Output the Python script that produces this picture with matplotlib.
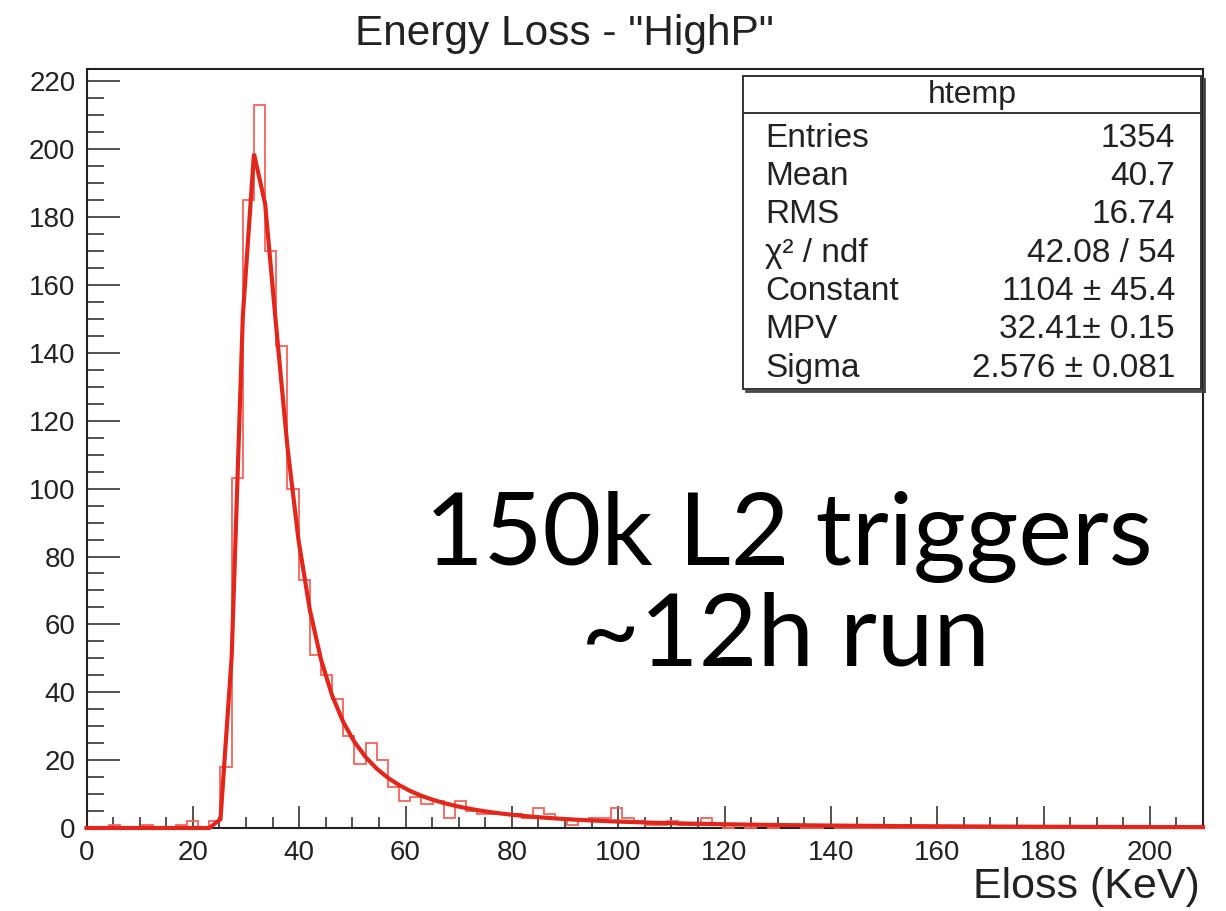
import numpy as np
import matplotlib
matplotlib.use("Agg")
import matplotlib.pyplot as plt
from matplotlib.patches import Rectangle
from matplotlib.lines import Line2D
from matplotlib.ticker import MultipleLocator

# ---------------- data ----------------
title = 'Energy Loss - "HighP"'
x_label = "Eloss (KeV)"
hist_name = "htemp"

n_bins = 100
x_range = (0.0, 210.0)

# bin contents of the energy-loss histogram (100 bins, 0-210 keV)
counts = np.array([
    0, 0, 1, 0, 0, 1, 0, 0, 1, 2,
    0, 2, 18, 103, 185, 213, 170, 142, 100, 73,
    51, 45, 38, 27, 19, 25, 20, 12, 8, 9,
    7, 8, 3, 8, 5, 4, 4, 4, 4, 3,
    6, 4, 3, 1, 2, 3, 3, 6, 3, 2,
    1, 1, 2, 1, 1, 3, 1, 0, 1, 0,
    1, 0, 1, 1, 0, 0, 1, 0, 0, 0,
    0, 0, 0, 0, 0, 0, 0, 0, 0, 0,
    0, 0, 0, 0, 0, 0, 0, 0, 0, 0,
    0, 0, 0, 0, 0, 0, 0, 0, 0, 0,
])

# Landau fit result
fit_constant = 1104.0
fit_mpv = 32.41
fit_sigma = 2.576

stats_labels = ["Entries", "Mean", "RMS", "\u03c7\u00b2 / ndf", "Constant", "MPV", "Sigma"]
stats_values = ["1354", "40.7", "16.74", "42.08 / 54",
                "1104 \u00b1 45.4", "32.41\u00b1 0.15", "2.576 \u00b1 0.081"]

overlay_lines = ["150k L2 triggers", "~12h run"]


# ---------------- Landau density (ROOT convention, unnormalised in sigma) ----------------
def landau_phi(lam):
    lam = np.atleast_1d(np.asarray(lam, dtype=float))
    t = np.linspace(0.0, 80.0, 160001)[1:]
    h = t[1] - t[0]
    base = -t * np.log(t)
    s = np.sin(np.pi * t)
    out = np.zeros_like(lam)
    for i, l in enumerate(lam):
        if l < -4.0:
            continue
        f = np.exp(base - l * t) * s
        out[i] = f.sum() * h / np.pi
    return np.clip(out, 0, None)


# ---------------- figure ----------------
W, H = 1226, 911
fig = plt.figure(figsize=(W / 100, H / 100), dpi=100)
fig.patch.set_facecolor("white")


def fx(px):
    return px / W


def fy(py):
    return 1.0 - py / H


ax_left, ax_right, ax_top, ax_bottom = 86.5, 1203.0, 69.0, 828.0
ax = fig.add_axes([fx(ax_left), fy(ax_bottom), (ax_right - ax_left) / W, (ax_bottom - ax_top) / H])

edges = np.linspace(x_range[0], x_range[1], n_bins + 1)
ax.stairs(counts, edges, color="#f0645c", lw=1.3, zorder=3, clip_on=False)

x_fit = np.linspace(x_range[0], x_range[1], 101)
y_fit = fit_constant * landau_phi((x_fit - fit_mpv) / fit_sigma)
ax.plot(x_fit, y_fit, color="#e2261c", lw=3.0, zorder=4, clip_on=False,
        solid_joinstyle="miter")

ax.set_xlim(*x_range)
ax.set_ylim(0, 1.05 * counts.max())

tick_font = "Liberation Sans"
ax.xaxis.set_major_locator(MultipleLocator(20))
ax.xaxis.set_minor_locator(MultipleLocator(5))
ax.yaxis.set_major_locator(MultipleLocator(20))
ax.yaxis.set_minor_locator(MultipleLocator(5))
ax.tick_params(axis="both", which="both", direction="in", top=False, right=False,
               colors="#444444", width=1.3, labelcolor="#222222")
ax.tick_params(axis="y", which="major", length=24, pad=8, labelsize=20)
ax.tick_params(axis="y", which="minor", length=12.5)
ax.tick_params(axis="x", which="major", length=16, pad=9, labelsize=20)
ax.tick_params(axis="x", which="minor", length=8)
for lab in ax.get_xticklabels() + ax.get_yticklabels():
    lab.set_fontfamily(tick_font)

for side in ["left", "bottom", "top", "right"]:
    ax.spines[side].set_color("#222222")
    ax.spines[side].set_linewidth(1.5)

# axis title and plot title
fig.text(fx(1200), fy(898), x_label, ha="right", va="baseline",
         fontsize=31, family="Liberation Sans", color="#222222")
fig.text(fx(564), fy(45), title, ha="center", va="baseline",
         fontsize=30.5, family="Liberation Sans", color="#222222")

# statistics box
bx0, bx1, by0, by1 = 743, 1201, 76, 389
sep_y = 113
fig.patches.append(Rectangle((fx(bx0), fy(by1)), (bx1 - bx0) / W, (by1 - by0) / H,
                             transform=fig.transFigure, facecolor="white",
                             edgecolor="#333333", lw=1.4, zorder=5))
fig.lines.append(Line2D([fx(bx0), fx(bx1)], [fy(sep_y), fy(sep_y)],
                        transform=fig.transFigure, color="#333333", lw=1.4, zorder=6))
# drop shadow on the right and bottom
fig.lines.append(Line2D([fx(bx1 + 2.5), fx(bx1 + 2.5)], [fy(by0 + 3), fy(by1 + 2.5)],
                        transform=fig.transFigure, color="#444444", lw=2.0, zorder=6))
fig.lines.append(Line2D([fx(bx0 + 3), fx(bx1 + 2.5)], [fy(by1 + 2.5), fy(by1 + 2.5)],
                        transform=fig.transFigure, color="#444444", lw=2.0, zorder=6))

fig.text(fx((bx0 + bx1) / 2), fy(103), hist_name, ha="center", va="baseline",
         fontsize=23, family="Liberation Sans", color="#222222", zorder=7)
row0, row_step = 146.7, 38.33
for i, (lab, val) in enumerate(zip(stats_labels, stats_values)):
    yb = row0 + i * row_step
    fig.text(fx(765), fy(yb), lab, ha="left", va="baseline", fontsize=24,
             family="Liberation Sans", color="#222222", zorder=7)
    fig.text(fx(1175), fy(yb), val, ha="right", va="baseline", fontsize=24,
             family="Liberation Sans", color="#222222", zorder=7)

# overlay annotation
fig.text(fx(789), fy(565), overlay_lines[0], ha="center", va="baseline",
         fontsize=73, family="Lato", color="black", zorder=8)
fig.text(fx(785), fy(665), overlay_lines[1], ha="center", va="baseline",
         fontsize=73, family="Lato", color="black", zorder=8)

fig.savefig("out.png", dpi=100, facecolor="white")
